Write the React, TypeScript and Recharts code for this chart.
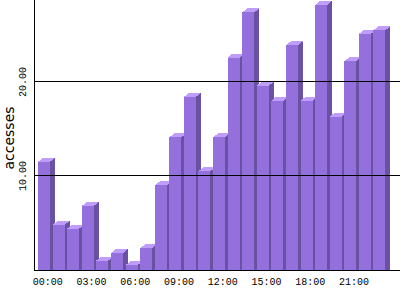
import React from 'react';
import { BarChart, Bar, XAxis, YAxis, ReferenceLine } from 'recharts';

const hours = [
  '00:00', '01:00', '02:00', '03:00', '04:00', '05:00', '06:00', '07:00',
  '08:00', '09:00', '10:00', '11:00', '12:00', '13:00', '14:00', '15:00',
  '16:00', '17:00', '18:00', '19:00', '20:00', '21:00', '22:00', '23:00',
];
const accesses = [
  11.5, 4.8, 4.4, 6.8, 1.0, 1.8, 0.5, 2.3, 9.0, 14.1, 18.4, 10.5,
  14.1, 22.6, 27.4, 19.6, 18.0, 23.9, 18.0, 28.2, 16.3, 22.2, 25.1, 25.5,
];
const yTicks = [10, 20];

const data = hours.map((h, i) => ({ hour: h, accesses: accesses[i] }));

const FRONT = '#9370db';
const SIDE = '#6a52a3';
const TOP = '#c09cfb';
const DX = 5;
const DY = 4;

// 3D looking bar: front face, darker right side, light top cap
const Bar3D = (props: any) => {
  const { x, y, width, height } = props;
  if (width == null || height == null) return null;
  const bottom = y + height + 3;
  return (
    <g shapeRendering="crispEdges">
      <polygon
        points={`${x + width},${y} ${x + width + DX},${y - DY} ${x + width + DX},${bottom - DY} ${x + width},${bottom}`}
        fill={SIDE}
      />
      <polygon
        points={`${x},${y} ${x + width},${y} ${x + width + DX},${y - DY} ${x + DX},${y - DY}`}
        fill={TOP}
      />
      <rect x={x} y={y} width={width} height={bottom - y} fill={FRONT} />
    </g>
  );
};

const XTick = ({ x, y, payload }: any) => (
  <text
    x={x + 3.5}
    y={y + 7}
    textAnchor="middle"
    fontFamily="'Liberation Mono', 'DejaVu Sans Mono', monospace"
    fontSize={10}
    fill="#000"
  >
    {payload.value}
  </text>
);

const YTick = ({ y, payload }: any) => (
  <text
    x={26}
    y={y}
    transform={`rotate(-90, 26, ${y})`}
    textAnchor="middle"
    fontFamily="'Liberation Mono', 'DejaVu Sans Mono', monospace"
    fontSize={10}
    fill="#000"
  >
    {Number(payload.value).toFixed(2)}
  </text>
);

export default function App() {
  return (
    <div style={{ position: 'absolute', left: 0, top: 0, width: 400, height: 300, background: '#fff' }}>
      <BarChart
        width={400}
        height={300}
        data={data}
        margin={{ top: 0, right: 0, bottom: 0, left: 0 }}
        barCategoryGap={0}
      >
        {yTicks.map((t) => (
          <ReferenceLine key={t} y={t} stroke="#000" strokeWidth={1} shapeRendering="crispEdges" />
        ))}
        <XAxis
          dataKey="hour"
          height={30}
          interval={2}
          padding={{ left: 3, right: 13 }}
          tickLine={false}
          axisLine={{ stroke: '#000', shapeRendering: 'crispEdges' }}
          tick={<XTick />}
        />
        <YAxis
          width={34}
          domain={[0, 28.72]}
          ticks={yTicks}
          allowDataOverflow
          tickLine={false}
          axisLine={{ stroke: '#000', shapeRendering: 'crispEdges' }}
          tick={<YTick />}
          label={{
            value: 'accesses',
            angle: -90,
            position: 'center',
            dx: -8,
            dy: 3,
            style: { fontFamily: "'DejaVu Sans', sans-serif", fontSize: 14, fill: '#000' },
          }}
        />
        <Bar
          dataKey="accesses"
          barSize={12}
          shape={<Bar3D />}
          isAnimationActive={false}
        />
      </BarChart>
    </div>
  );
}
